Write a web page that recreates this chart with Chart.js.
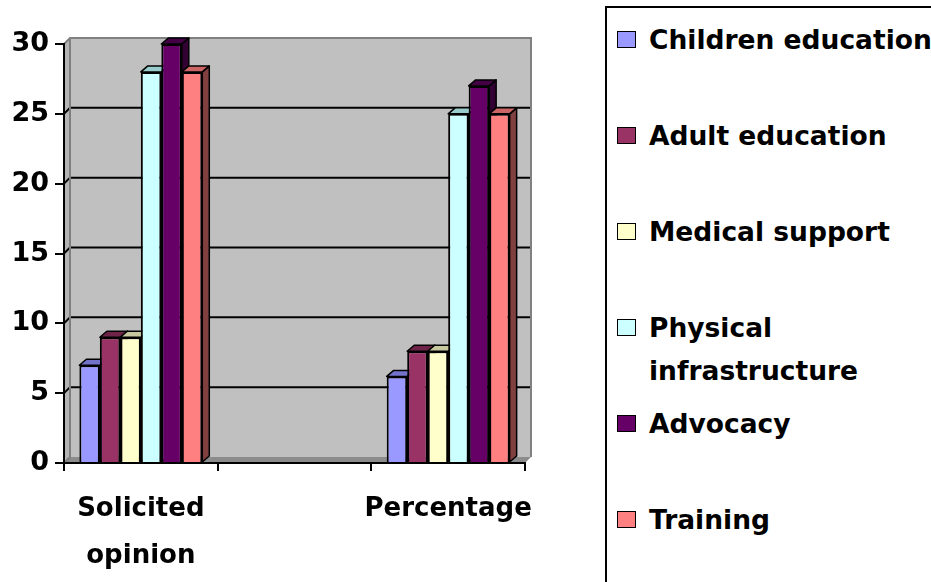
<!DOCTYPE html>
<html>
<head>
<meta charset="utf-8">
<script src="https://cdn.jsdelivr.net/npm/chart.js@4.4.1/dist/chart.umd.min.js"></script>
<style>
  body { margin: 0; background: #fff; width: 931px; height: 582px; overflow: hidden; position: relative; font-family: "DejaVu Sans", sans-serif; }
  #c { position: absolute; left: 0; top: 0; }
  #legend { position: absolute; left: 605px; top: 6px; width: 340px; height: 600px; border: 2px solid #000; box-sizing: border-box; background: #fff; }
  .item { position: absolute; left: 10px; display: flex; font-weight: bold; font-size: 26.5px; line-height: 43px; color: #000; }
  .box { width: 17px; height: 15px; border: 1.5px solid #000; margin-top: 12.5px; margin-right: 13px; flex: none; }
  .txt { width: 290px; }
</style>
</head>
<body>
<canvas id="c" width="600" height="582"></canvas>
<div id="legend"></div>
<script>
// categories (middle one is an empty spacer column in the original)
const categories = [["Solicited", "opinion"], "", "Percentage"];
const seriesNames = ["Children education", "Adult education", "Medical support", "Physical infrastructure", "Advocacy", "Training"];
const childrenEducation = [7, null, 6.2];
const adultEducation = [9, null, 8];
const medicalSupport = [9, null, 8];
const physicalInfrastructure = [28, null, 25];
const advocacy = [30, null, 27];
const training = [28, null, 25];
const yTicks = [0, 5, 10, 15, 20, 25, 30];

const colors = ["#9999FF", "#993366", "#FFFFCC", "#CCFFFF", "#660066", "#FF8080"];
const topColors = ["#7373CC", "#6E2449", "#C8C8A0", "#99CCCC", "#440044", "#CC6666"];
const sideColors = ["#5C5CA6", "#5A1E3C", "#A6A680", "#7AA3A3", "#330033", "#804040"];

const values = [childrenEducation, adultEducation, medicalSupport, physicalInfrastructure, advocacy, training];
const dx = 7, dy = 6;

// legend
const legend = document.getElementById("legend");
seriesNames.forEach((name, i) => {
  const item = document.createElement("div");
  item.className = "item";
  item.style.top = (10 + i * 96) + "px";
  item.innerHTML = `<div class="box" style="background:${colors[i]}"></div><div class="txt">${name}</div>`;
  legend.appendChild(item);
});

const wallPlugin = {
  id: "wall",
  beforeDraw(chart) {
    const { ctx, chartArea: a, scales: { y } } = chart;
    ctx.save();
    // back wall
    ctx.fillStyle = "#C0C0C0";
    ctx.fillRect(a.left + dx - 1, a.top - dy, a.right - a.left, a.bottom - a.top);
    // side wall
    ctx.fillStyle = "#B4B4B4";
    ctx.beginPath();
    ctx.moveTo(a.left, a.bottom);
    ctx.lineTo(a.left, a.top);
    ctx.lineTo(a.left + dx - 1, a.top - dy);
    ctx.lineTo(a.left + dx - 1, a.bottom - dy);
    ctx.closePath();
    ctx.fill();
    // floor
    ctx.fillStyle = "#8C8C8C";
    ctx.beginPath();
    ctx.moveTo(a.left, a.bottom);
    ctx.lineTo(a.left + dx - 1, a.bottom - dy);
    ctx.lineTo(a.right + dx - 1, a.bottom - dy);
    ctx.lineTo(a.right, a.bottom);
    ctx.closePath();
    ctx.fill();
    // wall gridlines
    ctx.strokeStyle = "#000";
    ctx.lineWidth = 2;
    yTicks.forEach(v => {
      if (v === 0 || v === 30) return;
      const py = y.getPixelForValue(v);
      ctx.beginPath();
      ctx.moveTo(a.left, py);
      ctx.lineTo(a.left + dx - 1, py - dy);
      ctx.lineTo(a.right + dx - 1, py - dy);
      ctx.stroke();
    });
    // wall outline
    ctx.strokeStyle = "#808080";
    ctx.lineWidth = 2;
    ctx.beginPath();
    ctx.moveTo(a.left, a.top);
    ctx.lineTo(a.left + dx - 1, a.top - dy);
    ctx.lineTo(a.right + dx - 1, a.top - dy);
    ctx.lineTo(a.right + dx - 1, a.bottom - dy);
    ctx.stroke();
    ctx.beginPath();
    ctx.moveTo(a.left + dx - 1, a.top - dy);
    ctx.lineTo(a.left + dx - 1, a.bottom - dy);
    ctx.lineTo(a.left, a.bottom);
    ctx.stroke();
    ctx.restore();
  },
  beforeDatasetsDraw(chart) {
    const { ctx } = chart;
    const bars = [];
    chart.data.datasets.forEach((ds, i) => {
      chart.getDatasetMeta(i).data.forEach((el, j) => {
        if (ds.data[j] == null) return;
        const p = el.getProps(["x", "y", "base", "width"], true);
        bars.push({ i, l: p.x - p.width / 2, r: p.x + p.width / 2, t: p.y, b: p.base });
      });
    });
    ctx.save();
    ctx.strokeStyle = "#000";
    ctx.lineWidth = 1.5;
    ctx.lineJoin = "round";
    bars.forEach(s => {
      ctx.fillStyle = sideColors[s.i];
      ctx.beginPath();
      ctx.moveTo(s.r, s.t);
      ctx.lineTo(s.r + dx, s.t - dy);
      ctx.lineTo(s.r + dx, s.b - dy);
      ctx.lineTo(s.r, s.b);
      ctx.closePath();
      ctx.fill();
      ctx.stroke();
    });
    bars.forEach(s => {
      ctx.fillStyle = topColors[s.i];
      ctx.beginPath();
      ctx.moveTo(s.l, s.t);
      ctx.lineTo(s.l + dx, s.t - dy);
      ctx.lineTo(s.r + dx, s.t - dy);
      ctx.lineTo(s.r, s.t);
      ctx.closePath();
      ctx.fill();
      ctx.stroke();
    });
    ctx.restore();
  }
};

const tickFont = { family: "DejaVu Sans", weight: "bold", size: 26 };

new Chart(document.getElementById("c"), {
  type: "bar",
  data: {
    labels: categories,
    datasets: seriesNames.map((name, i) => ({
      label: name,
      data: values[i],
      backgroundColor: colors[i],
      borderColor: "#000",
      borderWidth: 2,
      categoryPercentage: 0.8,
      barPercentage: 1.0
    }))
  },
  options: {
    responsive: false,
    animation: false,
    layout: { padding: { top: 44, right: 75, bottom: 0, left: 0 } },
    plugins: { legend: { display: false }, tooltip: { enabled: false } },
    scales: {
      x: {
        grid: { drawOnChartArea: false, tickLength: 8, color: "#000", lineWidth: 2, offset: true },
        border: { color: "#000", width: 2 },
        ticks: { color: "#000", font: { ...tickFont, lineHeight: 1.8 }, padding: 15, maxRotation: 0, autoSkip: false },
        afterFit: s => { s.height = 119; }
      },
      y: {
        min: 0,
        max: 30,
        afterBuildTicks: s => { s.ticks = yTicks.map(v => ({ value: v })); },
        grid: { drawOnChartArea: false, tickLength: 9, color: "#000", lineWidth: 2 },
        border: { color: "#000", width: 2 },
        ticks: { color: "#000", font: { ...tickFont, size: 27 }, padding: 6 },
        afterFit: s => { s.width = 64; }
      }
    }
  },
  plugins: [wallPlugin]
});
</script>
</body>
</html>
